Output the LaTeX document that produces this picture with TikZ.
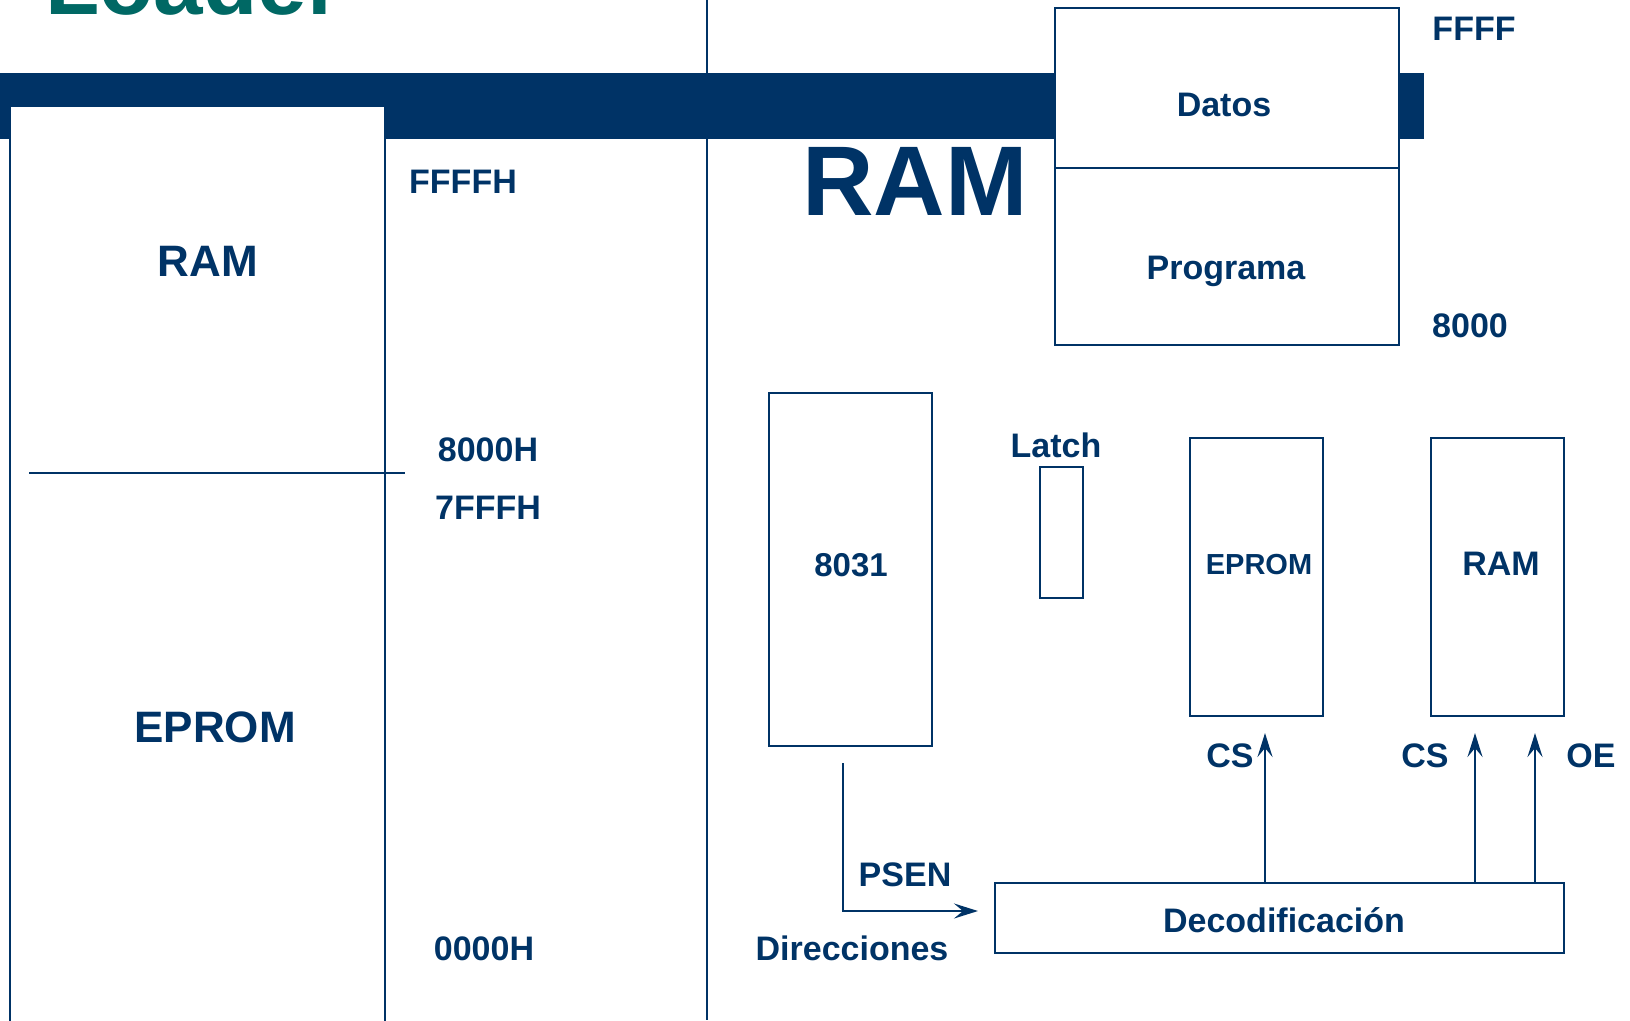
\documentclass[tikz,border=0pt]{standalone}
\usepackage{fontspec}
\setmainfont{Liberation Sans}
\usetikzlibrary{arrows.meta}
\definecolor{navy}{RGB}{0,51,102}
\definecolor{loadergreen}{RGB}{0,104,100}

\begin{document}
\begin{tikzpicture}[
    x=1pt, y=-1pt,
    box/.style={rectangle, draw=navy, line width=2.5pt, fill=white, inner sep=0pt},
    txt/.style={text=navy, font=\bfseries\fontsize{34}{34}\selectfont, anchor=base, inner sep=0pt},
    bigtxt/.style={txt, font=\bfseries\fontsize{44}{44}\selectfont},
    arrow/.style={draw=navy, line width=2.6pt, -{Stealth[length=24pt, width=15pt, inset=9pt]}}
]
\useasboundingbox (0,0) rectangle (1630,1020);

% Background: divider and title bar
\draw[navy, line width=2.5pt] (707,0) -- (707,1020);
\fill[navy] (0,73) rectangle (1424,139);
\node[anchor=base west, text=loadergreen, font=\bfseries\fontsize{89}{89}\selectfont, inner sep=0pt] (title) at (45,14) {Loader};

% Memory map (left)
\node[box, minimum width=375pt, minimum height=934pt] (mem) at (197.5,573) {};
\draw[navy, line width=2pt] (29,473) -- (405,473);
\node[bigtxt] (memram) at (208,276) {RAM};
\node[bigtxt] (memrom) at (215,742) {EPROM};
\node[txt] (a1) at (463,193) {FFFFH};
\node[txt] (a2) at (488,461) {8000H};
\node[txt] (a3) at (488,519) {7FFFH};
\node[txt] (a4) at (484,960) {0000H};

% RAM map (right)
\node[txt, font=\bfseries\fontsize{99}{99}\selectfont] (bigram) at (915,215) {RAM};
\node[box, minimum width=344pt, minimum height=160pt] (datos) at (1227,88) {};
\node[box, minimum width=344pt, minimum height=177pt] (prog) at (1227,256.5) {};
\node[txt] at (1224,116) {Datos};
\node[txt] at (1226,279) {Programa};
\node[txt] (r1) at (1474,40) {FFFF};
\node[txt] (r2) at (1470,337) {8000};

% Circuit
\node[box, minimum width=163pt, minimum height=353pt] (cpu) at (850.5,569.5) {};
\node[txt, font=\bfseries\fontsize{33}{33}\selectfont] at (851,576) {8031};
\node[txt] (latchlbl) at (1056,457) {Latch};
\node[box, minimum width=43pt, minimum height=131pt] (latch) at (1061.5,532.5) {};
\node[box, minimum width=133pt, minimum height=278pt] (eprom) at (1256.5,577) {};
\node[txt, font=\bfseries\fontsize{29}{29}\selectfont] at (1259,574) {EPROM};
\node[box, minimum width=133pt, minimum height=278pt] (ram) at (1497.5,577) {};
\node[txt] at (1501,575) {RAM};
\node[box, minimum width=569pt, minimum height=70pt] (dec) at (1279.5,918) {};
\node[txt] at (1284,932) {Decodificación};

% Signals
\coordinate (psen) at (843,763);
\coordinate (pin) at (978,911);
\coordinate (cs1) at (1265,733);
\coordinate (cs2) at (1475,733);
\coordinate (oe) at (1535,733);
\draw[arrow] (psen) |- (pin);
\draw[arrow] (dec.north -| cs1) -- (cs1);
\draw[arrow] (dec.north -| cs2) -- (cs2);
\draw[arrow] (dec.north -| oe) -- (oe);
\node[txt] at (905,886) {PSEN};
\node[txt] at (852,960) {Direcciones};
\node[txt] at (1230,767) {CS};
\node[txt] at (1425,767) {CS};
\node[txt] at (1591,767) {OE};

\end{tikzpicture}
\end{document}
